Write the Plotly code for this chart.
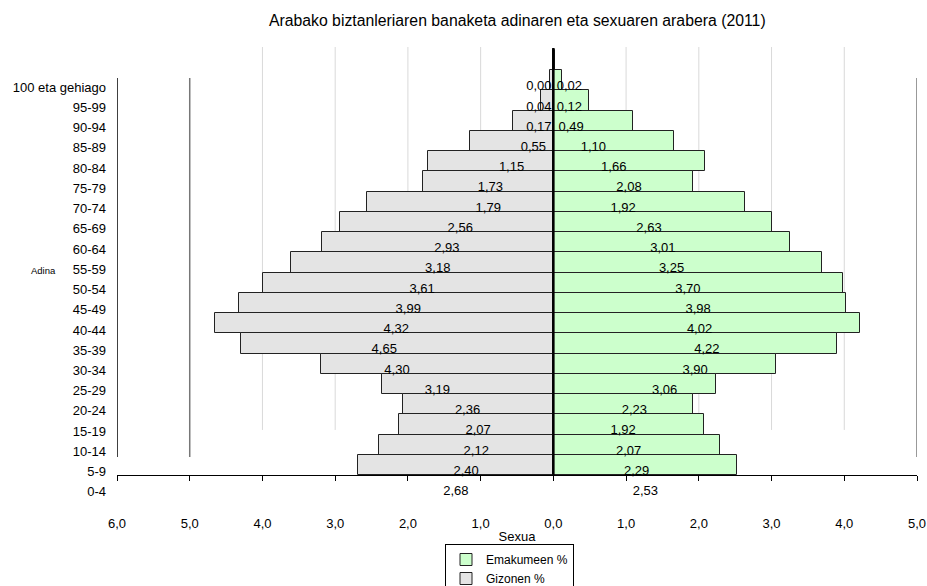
import plotly.graph_objects as go

# Age groups, oldest first (top of the pyramid)
age_groups = [
    "100 eta gehiago", "95-99", "90-94", "85-89", "80-84", "75-79", "70-74",
    "65-69", "60-64", "55-59", "50-54", "45-49", "40-44", "35-39", "30-34",
    "25-29", "20-24", "15-19", "10-14", "5-9", "0-4",
]

# Share of the total population (%)
women_pct = [
    0.02, 0.12, 0.49, 1.10, 1.66, 2.08, 1.92, 2.63, 3.01, 3.25, 3.70,
    3.98, 4.02, 4.22, 3.90, 3.06, 2.23, 1.92, 2.07, 2.29, 2.53,
]
men_pct = [
    0.00, 0.04, 0.17, 0.55, 1.15, 1.73, 1.79, 2.56, 2.93, 3.18, 3.61,
    3.99, 4.32, 4.65, 4.30, 3.19, 2.36, 2.07, 2.12, 2.40, 2.68,
]

x_tick_vals = [-6, -5, -4, -3, -2, -1, 0, 1, 2, 3, 4, 5]
x_tick_text = ["6,0", "5,0", "4,0", "3,0", "2,0", "1,0", "0,0",
               "1,0", "2,0", "3,0", "4,0", "5,0"]

FONT = "Liberation Sans, Arial, sans-serif"
rows = list(range(len(age_groups)))
LABEL_SHIFT = 1.33          # category / value labels sit below their bar
Y_TOP, Y_BOTTOM = -0.647, 21.73


def fmt(v):
    return f"{v:.2f}".replace(".", ",")


fig = go.Figure()

fig.add_trace(go.Bar(
    name="Emakumeen %", y=rows, x=women_pct, orientation="h", width=1.0,
    marker=dict(color="#ccffcc", line=dict(color="#222222", width=1)),
    hoverinfo="skip",
))
fig.add_trace(go.Bar(
    name="Gizonen %", y=rows, x=[-v for v in men_pct], orientation="h", width=1.0,
    marker=dict(color="#e4e4e4", line=dict(color="#222222", width=1)),
    hoverinfo="skip",
))

# value labels centred on each half-bar, kept clear of the centre line
label_y = [r + LABEL_SHIFT for r in rows]
fig.add_trace(go.Scatter(
    x=[max(v / 2, 0.22) for v in women_pct], y=label_y, mode="text",
    text=[fmt(v) for v in women_pct], textposition="middle center",
    textfont=dict(family=FONT, size=13, color="#000000"),
    showlegend=False, hoverinfo="skip",
))
fig.add_trace(go.Scatter(
    x=[min(-v / 2, -0.2) for v in men_pct], y=label_y, mode="text",
    text=[fmt(v) for v in men_pct], textposition="middle center",
    textfont=dict(family=FONT, size=13, color="#000000"),
    showlegend=False, hoverinfo="skip",
))

shapes = []
# light vertical gridlines
for gx in [-4, -3, -2, -1, 1, 2, 3, 4]:
    shapes.append(dict(type="line", xref="x", yref="y", x0=gx, x1=gx,
                       y0=Y_TOP, y1=18.27, layer="below",
                       line=dict(color="#d9d9d9", width=1)))
# frame lines at the outer ticks
for gx, col in [(-6, "#000000"), (-5, "#777777"), (5, "#777777")]:
    shapes.append(dict(type="line", xref="x", yref="y", x0=gx, x1=gx,
                       y0=0.884, y1=19.61, line=dict(color=col, width=1.5)))
# centre line
shapes.append(dict(type="line", xref="x", yref="y", x0=0, x1=0,
                   y0=-0.6, y1=20.49, line=dict(color="#000000", width=2.5)))

fig.update_layout(
    width=927, height=586,
    margin=dict(l=117, r=10, t=47, b=86, autoexpand=False),
    paper_bgcolor="white", plot_bgcolor="white",
    barmode="overlay", bargap=0,
    font=dict(family=FONT, size=13, color="#000000"),
    title=dict(text="Arabako biztanleriaren banaketa adinaren eta sexuaren arabera (2011)",
               x=0.558, xanchor="center", y=1 - 20 / 586, yanchor="middle",
               font=dict(family=FONT, size=15.8, color="#000000")),
    xaxis=dict(
        range=[-6, 5], tickvals=x_tick_vals, ticktext=x_tick_text,
        showgrid=False, zeroline=False, showline=True, linecolor="#000000",
        linewidth=1, ticks="outside", ticklen=5, tickcolor="#000000",
        anchor="free", position=25 / 453, ticklabelstandoff=31,
        tickfont=dict(family=FONT, size=13),
        title=dict(text="Sexua", standoff=2, font=dict(family=FONT, size=13)),
    ),
    yaxis=dict(
        range=[Y_BOTTOM, Y_TOP], tickvals=label_y, ticktext=age_groups,
        showgrid=False, zeroline=False, showline=False, ticks="",
        ticklabelstandoff=10, tickfont=dict(family=FONT, size=13),
    ),
    shapes=shapes,
    annotations=[dict(text="Adina", xref="paper", yref="paper",
                      x=-(117 - 43) / 800, y=(500 - 270) / 453,
                      xanchor="center", yanchor="middle", showarrow=False,
                      font=dict(family=FONT, size=9.5))],
    legend=dict(xref="container", yref="container",
                x=445 / 927, y=1 - 544 / 586, xanchor="left", yanchor="top",
                bgcolor="white", bordercolor="#000000", borderwidth=1,
                traceorder="normal", font=dict(family=FONT, size=12),
                tracegroupgap=0, itemwidth=30),
    showlegend=True,
)

fig.write_html("out.html")
